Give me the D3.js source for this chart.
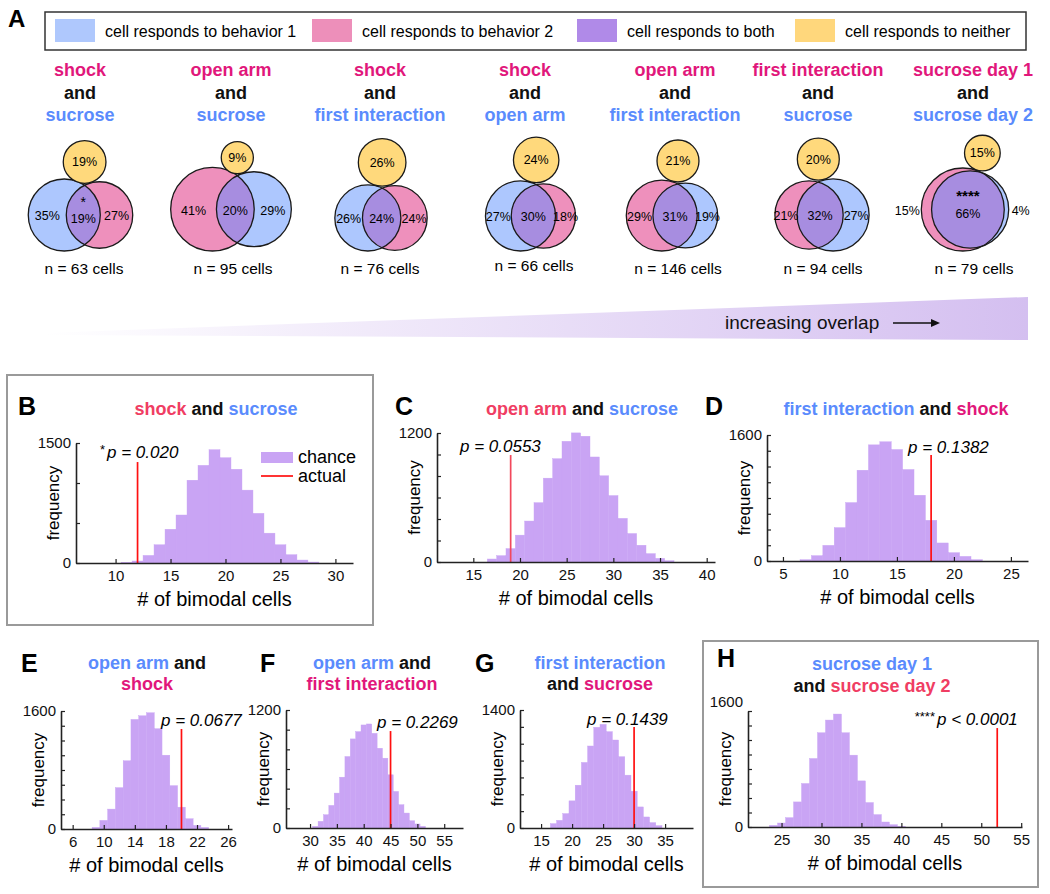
<!DOCTYPE html>
<html><head><meta charset="utf-8">
<script src="https://cdn.jsdelivr.net/npm/d3@7"></script>
<style>body{margin:0;background:#fff} svg{display:block;font-family:"Liberation Sans",Arial,Helvetica,sans-serif}</style>
</head><body>
<svg id="c" width="1050" height="894"></svg>
<script>
// ---------------- DATA ----------------
const legendLabels = ["cell responds to behavior 1","cell responds to behavior 2","cell responds to both","cell responds to neither"];
const vennBehavior2 = ["shock","open arm","shock","shock","open arm","first interaction","sucrose day 1"];
const vennBehavior1 = ["sucrose","sucrose","first interaction","open arm","first interaction","sucrose","sucrose day 2"];
const vennCells = [63,95,76,66,146,94,79];
const pctBehavior1Only = [35,29,26,27,19,27,4];
const pctBehavior2Only = [27,41,24,18,29,21,15];
const pctBoth = [19,20,24,30,31,32,66];
const pctNeither = [19,9,26,24,21,20,15];
const vennSig = ["*","","","","","","****"];
const behavior1Left = [true,false,true,true,false,false,false];

const histB_first = 11, histB = [8,25,95,228,422,600,1035,1221,1416,1316,1172,911,621,373,228,104,37,12];
const histC_first = 17, histC = [28,59,125,250,381,552,780,961,1123,1201,1170,977,802,618,406,265,156,78,34,12];
const histD_first = 7,  histD = [17,68,199,424,742,1153,1475,1514,1416,1162,835,517,229,106,59,17];
const histE_first = 9,  histE = [22,117,270,561,925,1486,1535,1576,1360,1001,588,296,139,49,22];
const histF_first = 31, histF = [17,68,135,230,355,517,727,906,980,1048,1058,963,811,710,541,372,237,152,74,41,17];
const histG_first = 17, histG = [52,91,171,322,508,778,973,1195,1230,1143,1044,846,627,437,250,131,64,28];
const histH_first = 24, histH = [23,55,129,346,600,945,1300,1475,1558,1300,991,636,337,171,69,32,9];
const actualCells = {B:12, C:19, D:18, E:20, F:45, G:30, H:52};
const pValues = {B:"p = 0.020", C:"p = 0.0553", D:"p = 0.1382", E:"p = 0.0677", F:"p = 0.2269", G:"p = 0.1439", H:"p < 0.0001"};
const pStars = {B:"*", H:"****"};
const xTicksB = [10,15,20,25,30], xTicksC = [15,20,25,30,35,40], xTicksD = [5,10,15,20,25],
      xTicksE = [6,10,14,18,22,26], xTicksF = [30,35,40,45,50,55], xTicksG = [15,20,25,30,35], xTicksH = [25,30,35,40,45,50,55];
const yMaxB = 1500, yMaxC = 1200, yMaxD = 1600, yMaxE = 1600, yMaxF = 1200, yMaxG = 1400, yMaxH = 1600;

// ---------------- STYLE / LAYOUT ----------------
const MAG = "#e1177b", BLUE = "#5a8bfd", RED = "#f03d63", BLK = "#111";
const V_BLUE = "#adc7fe", V_PINK = "#ee90bc", V_BOTH = "#a78de0", V_YEL = "#ffd97c";
const HIST = "#c9a4f4";
const FONT = '"Liberation Sans",Arial,Helvetica,sans-serif';

const svg = d3.select("#c");
const defs = svg.append("defs");

// ---- Panel A ----
svg.append("text").attr("x",8).attr("y",27).attr("font-size",24).attr("font-weight","bold").text("A");
svg.append("rect").attr("x",45).attr("y",12).attr("width",981).attr("height",38)
  .attr("fill","#fff").attr("stroke","#333").attr("stroke-width",1.5);
const legSwatch = [55,312,577,795], legColors = ["#afc8fd","#ed8fba","#b08ae8","#ffd77c"];
legendLabels.forEach((t,i)=>{
  svg.append("rect").attr("x",legSwatch[i]).attr("y",19).attr("width",40).attr("height",23).attr("fill",legColors[i]);
  svg.append("text").attr("x",legSwatch[i]+50).attr("y",31).attr("dy","0.35em").attr("font-size",16).text(t);
});

const titleX = [80,231,380,525,675,818,973];
const vennX = [80.5,231,381,530.5,672,822,965];
const nX = [84,233,380,534,678,823,974];
const vennK = [4.9,5.35,4.67,4.64,4.58,4.69,4.61];
const vennBottom = 251;

function lensArea(d,r1,r2){
  if(d>=r1+r2) return 0;
  if(d<=Math.abs(r1-r2)) return Math.PI*Math.min(r1,r2)**2;
  const a1=Math.acos((d*d+r1*r1-r2*r2)/(2*d*r1)), a2=Math.acos((d*d+r2*r2-r1*r1)/(2*d*r2));
  return r1*r1*a1+r2*r2*a2-0.5*Math.sqrt((-d+r1+r2)*(d+r1-r2)*(d-r1+r2)*(d+r1+r2));
}

vennCells.forEach((n,i)=>{
  const g = svg.append("g");
  [[vennBehavior2[i],MAG],["and",BLK],[vennBehavior1[i],BLUE]].forEach(([t,c],j)=>{
    g.append("text").attr("x",titleX[i]).attr("y",70+22.5*j).attr("dy","0.35em").attr("text-anchor","middle")
      .attr("font-size",18).attr("font-weight","bold").attr("fill",c).text(t);
  });
  const k = vennK[i];
  const r = d3.scaleSqrt().domain([0,100]).range([0,k*10]);
  const tot1 = pctBehavior1Only[i]+pctBoth[i], tot2 = pctBehavior2Only[i]+pctBoth[i];
  const left = behavior1Left[i] ? {r:r(tot1),c:V_BLUE,only:pctBehavior1Only[i]} : {r:r(tot2),c:V_PINK,only:pctBehavior2Only[i]};
  const right = behavior1Left[i] ? {r:r(tot2),c:V_PINK,only:pctBehavior2Only[i]} : {r:r(tot1),c:V_BLUE,only:pctBehavior1Only[i]};
  const target = Math.PI*r(pctBoth[i])**2;
  let lo=Math.abs(left.r-right.r), hi=left.r+right.r;
  for(let it=0;it<80;it++){const m=(lo+hi)/2; if(lensArea(m,left.r,right.r)>target) lo=m; else hi=m;}
  const d=(lo+hi)/2;
  const bl=Math.min(-left.r,d-right.r), br=Math.max(left.r,d+right.r);
  const off = vennX[i]-(bl+br)/2;
  const cxL = off, cxR = off+d, cy = vennBottom-Math.max(left.r,right.r);
  defs.append("clipPath").attr("id","clipL"+i).append("circle").attr("cx",cxL).attr("cy",cy).attr("r",left.r);
  g.append("circle").attr("cx",cxL).attr("cy",cy).attr("r",left.r).attr("fill",left.c);
  g.append("circle").attr("cx",cxR).attr("cy",cy).attr("r",right.r).attr("fill",right.c);
  g.append("circle").attr("cx",cxR).attr("cy",cy).attr("r",right.r).attr("fill",V_BOTH).attr("clip-path",`url(#clipL${i})`);
  g.append("circle").attr("cx",cxL).attr("cy",cy).attr("r",left.r).attr("fill","none").attr("stroke","#1a1a1a").attr("stroke-width",1.3);
  g.append("circle").attr("cx",cxR).attr("cy",cy).attr("r",right.r).attr("fill","none").attr("stroke","#1a1a1a").attr("stroke-width",1.3);
  const a=(d*d+left.r*left.r-right.r*right.r)/(2*d);
  const ix=cxL+a, iy=cy-Math.sqrt(Math.max(0,left.r*left.r-a*a));
  const ry=r(pctNeither[i]);
  const ycy = iy-ry-2;
  g.append("circle").attr("cx",ix).attr("cy",ycy).attr("r",ry).attr("fill",V_YEL).attr("stroke","#1a1a1a").attr("stroke-width",1.3);
  g.append("text").attr("x",ix).attr("y",ycy).attr("dy","0.35em").attr("text-anchor","middle").attr("font-size",12.5).text(pctNeither[i]+"%");
  const lx0=cxL-left.r, lx1=cxR-right.r, rx0=cxL+left.r, rx1=cxR+right.r;
  const lX = (lx1-lx0<16)? lx0-14 : (lx0+lx1)/2;
  const rX = (rx1-rx0<16)? rx1+12 : (rx0+rx1)/2;
  const bX = (lx1+rx0)/2;
  const sig = vennSig[i];
  g.append("text").attr("x",lX).attr("y",cy+1).attr("dy","0.35em").attr("text-anchor","middle").attr("font-size",12.5).text(left.only+"%");
  g.append("text").attr("x",rX).attr("y",cy+1).attr("dy","0.35em").attr("text-anchor","middle").attr("font-size",12.5).text(right.only+"%");
  g.append("text").attr("x",bX).attr("y",cy+(sig?4:1)).attr("dy","0.35em").attr("text-anchor","middle").attr("font-size",12.5).text(pctBoth[i]+"%");
  if(sig){
    g.append("text").attr("x",bX).attr("y",cy-(sig.length>1?9:8)).attr("text-anchor","middle")
      .attr("font-size",sig.length>1?15:14).attr("font-weight",sig.length>1?"bold":"normal").text(sig);
  }
  g.append("text").attr("x",nX[i]).attr("y",i===3?266:269).attr("dy","0.35em").attr("text-anchor","middle").attr("font-size",15.5).text(`n = ${n} cells`);
});

// gradient wedge
const grad = defs.append("linearGradient").attr("id","wedge").attr("x1","0").attr("x2","1").attr("y1","0").attr("y2","0");
grad.append("stop").attr("offset","0").attr("stop-color","#ffffff");
grad.append("stop").attr("offset","1").attr("stop-color","#d4bff0");
svg.append("path").attr("d","M45,333 L1028,297 L1028,340 L45,335 Z").attr("fill","url(#wedge)");
svg.append("text").attr("x",725).attr("y",322).attr("dy","0.35em").attr("font-size",19).attr("fill","#111").text("increasing overlap");
svg.append("line").attr("x1",893).attr("x2",934).attr("y1",323).attr("y2",323).attr("stroke","#111").attr("stroke-width",1.5);
svg.append("path").attr("d","M940,323 L931,319 L931,327 Z").attr("fill","#111");

// ---- boxes ----
svg.append("rect").attr("x",7).attr("y",375).attr("width",366).attr("height",250).attr("fill","none").attr("stroke","#9a9a9a").attr("stroke-width",2);
svg.append("rect").attr("x",703).attr("y",641).attr("width",335).attr("height",246).attr("fill","none").attr("stroke","#9a9a9a").attr("stroke-width",2);

// ---- Histograms ----
const panels = [
  {id:"B", letter:[18,406], title:[[["shock",RED],[" and ",BLK],["sucrose",BLUE]]], tx:216, ty:[409],
   counts:histB, first:histB_first, xd:[6.4,31.6], xr:[76,353], yb:563, yt:443, ymax:yMaxB, ystep:500, xticks:xTicksB,
   redTop:1262, red:"#ff1010", px:107, py:452, starX:100, legend:true},
  {id:"C", letter:[395,406], title:[[["open arm",RED],[" and ",BLK],["sucrose",BLUE]]], tx:582, ty:[409],
   counts:histC, first:histC_first, xd:[11.11,40.89], xr:[437,715], yb:562, yt:433, ymax:yMaxC, ystep:200, xticks:xTicksC,
   redTop:995, red:"#f2485c", px:460, py:446},
  {id:"D", letter:[705,406], title:[[["first interaction",BLUE],[" and ",BLK],["shock",MAG]]], tx:896, ty:[409],
   counts:histD, first:histD_first, xd:[3.6,26.5], xr:[767,1028], yb:561, yt:435, ymax:yMaxD, ystep:200, xticks:xTicksD,
   redTop:1346, red:"#ff1010", px:908, py:447},
  {id:"E", letter:[21,663], title:[[["open arm",BLUE],[" and",BLK]],[["shock",MAG]]], tx:147, ty:[663,684],
   counts:histE, first:histE_first, xd:[4.5,26.5], xr:[61,232], yb:829, yt:711, ymax:yMaxE, ystep:200, xticks:xTicksE,
   redTop:1356, red:"#ff1010", px:161, py:720},
  {id:"F", letter:[260,663], title:[[["open arm",BLUE],[" and",BLK]],[["first interaction",MAG]]], tx:372, ty:[663,684],
   counts:histF, first:histF_first, xd:[25.52,58.5], xr:[286,463], yb:828, yt:710, ymax:yMaxF, ystep:200, xticks:xTicksF,
   redTop:986, red:"#ff1010", px:377, py:722},
  {id:"G", letter:[475,663], title:[[["first interaction",BLUE]],[["and ",BLK],["sucrose",MAG]]], tx:600, ty:[663,684],
   counts:histG, first:histG_first, xd:[11.6,39.5], xr:[520,693], yb:828, yt:710, ymax:yMaxG, ystep:200, xticks:xTicksG,
   redTop:1198, red:"#ff1010", px:587, py:719},
  {id:"H", letter:[717,658], title:[[["sucrose day 1",BLUE]],[["and ",BLK],["sucrose day 2",RED]]], tx:872, ty:[664,686],
   counts:histH, first:histH_first, xd:[20.8,55.1], xr:[748,1022], yb:827, yt:711, ymax:yMaxH, ystep:200, xticks:xTicksH,
   redTop:1365, red:"#ff1010", px:937, py:719, starX:912, maxLabelDy:-9}
];

panels.forEach(p=>{
  const g = svg.append("g");
  g.append("text").attr("x",p.letter[0]).attr("y",p.letter[1]+9).attr("font-size",25).attr("font-weight","bold").text(p.id);
  p.title.forEach((line,j)=>{
    const t = g.append("text").attr("x",p.tx).attr("y",p.ty[j]).attr("dy","0.35em").attr("text-anchor","middle")
      .attr("font-size",18).attr("font-weight","bold");
    line.forEach(([s,c])=>t.append("tspan").attr("fill",c).attr("xml:space","preserve").text(s));
  });
  const x = d3.scaleLinear().domain(p.xd).range(p.xr);
  const y = d3.scaleLinear().domain([0,p.ymax]).range([p.yb,p.yt]);
  const data = p.counts.map((c,i)=>({k:p.first+i,c}));
  g.append("g").selectAll("rect").data(data).join("rect")
    .attr("x",d=>x(d.k-0.5)).attr("width",d=>x(d.k+0.5)-x(d.k-0.5))
    .attr("y",d=>y(d.c)).attr("height",d=>y(0)-y(d.c))
    .attr("fill",HIST).attr("stroke",HIST).attr("stroke-width",0.4);
  const act = actualCells[p.id];
  g.append("line").attr("x1",x(act)).attr("x2",x(act)).attr("y1",y(0)).attr("y2",y(p.redTop))
    .attr("stroke",p.red).attr("stroke-width",1.7);
  const xa = g.append("g").attr("transform",`translate(0,${p.yb})`)
    .call(d3.axisBottom(x).tickValues(p.xticks).tickSizeInner(-4).tickSizeOuter(0).tickPadding(7));
  const ya = g.append("g").attr("transform",`translate(${p.xr[0]},0)`)
    .call(d3.axisLeft(y).tickValues(d3.range(0,p.ymax+1,p.ystep)).tickSizeInner(-4).tickSizeOuter(0).tickPadding(5)
      .tickFormat(v=>(v===0||v===p.ymax)?String(v):""));
  [xa,ya].forEach(a=>{
    a.attr("font-size",15).attr("font-family",FONT).attr("color","#222");
    a.select(".domain").attr("stroke-width",1.6);
    a.selectAll(".tick line").attr("stroke-width",1.2);
    a.selectAll("text").attr("fill","#111");
  });
  if(p.maxLabelDy){
    ya.selectAll(".tick text").filter(v=>v===p.ymax).attr("transform",`translate(0,${p.maxLabelDy})`);
  }
  g.append("text").attr("transform",`translate(${p.xr[0]-23},${(p.yb+p.yt)/2}) rotate(-90)`).attr("dy","0.35em")
    .attr("text-anchor","middle").attr("font-size",17).text("frequency");
  g.append("text").attr("x",(p.xr[0]+p.xr[1])/2).attr("y",p.yb+36).attr("dy","0.35em")
    .attr("text-anchor","middle").attr("font-size",20).text("# of bimodal cells");
  if(pStars[p.id]){
    const multi = pStars[p.id].length>1;
    g.append("text").attr("x", multi ? p.px-2 : p.starX).attr("text-anchor", multi?"end":"start")
      .attr("y",p.py-3).attr("dy","0.35em").attr("font-size",13).text(pStars[p.id]);
  }
  g.append("text").attr("x",p.px).attr("y",p.py).attr("dy","0.35em").attr("font-size",17).attr("font-style","italic").text(pValues[p.id]);
  if(p.legend){
    g.append("rect").attr("x",261).attr("y",452).attr("width",32).attr("height",11).attr("fill",HIST);
    g.append("text").attr("x",298).attr("y",457).attr("dy","0.35em").attr("font-size",18).text("chance");
    g.append("line").attr("x1",261).attr("x2",293).attr("y1",476).attr("y2",476).attr("stroke","#ff1010").attr("stroke-width",1.7);
    g.append("text").attr("x",298).attr("y",476).attr("dy","0.35em").attr("font-size",18).text("actual");
  }
});
</script>
</body></html>
